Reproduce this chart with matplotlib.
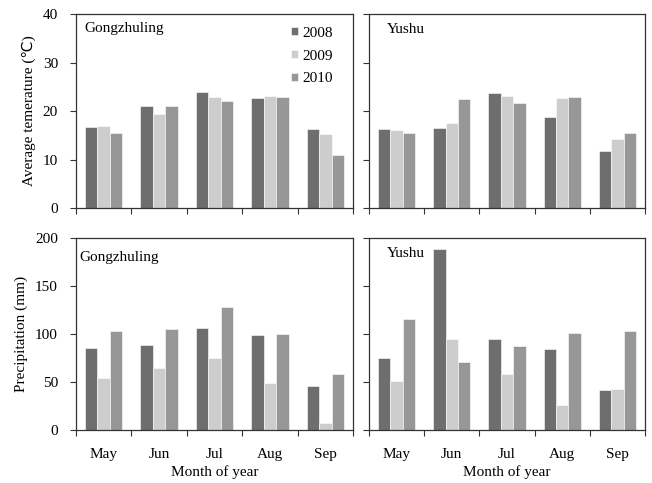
import matplotlib
matplotlib.use("Agg")
import matplotlib.pyplot as plt
import numpy as np

months = ["May", "Jun", "Jul", "Aug", "Sep"]
years = ["2008", "2009", "2010"]

temp_gzl_2008 = [16.7, 21.0, 24.0, 22.6, 16.2]
temp_gzl_2009 = [16.9, 19.3, 22.9, 23.0, 15.3]
temp_gzl_2010 = [15.5, 21.0, 22.0, 22.8, 11.0]

temp_ys_2008 = [16.3, 16.5, 23.7, 18.7, 11.7]
temp_ys_2009 = [16.0, 17.6, 23.0, 22.6, 14.3]
temp_ys_2010 = [15.5, 22.4, 21.7, 22.9, 15.5]

prec_gzl_2008 = [85, 89, 106, 99, 46]
prec_gzl_2009 = [54, 65, 75, 49, 7]
prec_gzl_2010 = [103, 105, 128, 100, 58]

prec_ys_2008 = [75, 189, 95, 84, 42]
prec_ys_2009 = [51, 95, 58, 26, 43]
prec_ys_2010 = [116, 71, 88, 101, 103]

colors = ["#6e6e6e", "#cdcdcd", "#979797"]
FONT = ["Liberation Serif", "DejaVu Sans"]
plt.rcParams["font.family"] = FONT
FS = 11

fig = plt.figure(figsize=(6.52, 4.83), dpi=100)
W, H = 652, 483
def pos(l, t, r, b):
    return [l / W, 1 - b / H, (r - l) / W, (b - t) / H]

ax_tl = fig.add_axes(pos(76, 14, 353, 208))
ax_tr = fig.add_axes(pos(369, 14, 645, 208))
ax_bl = fig.add_axes(pos(76, 238, 353, 430))
ax_br = fig.add_axes(pos(369, 238, 645, 430))

panels = [
    (ax_tl, [temp_gzl_2008, temp_gzl_2009, temp_gzl_2010], "Gongzhuling", 40, 10, True, False, (0.032, 0.923)),
    (ax_tr, [temp_ys_2008, temp_ys_2009, temp_ys_2010], "Yushu", 40, 10, False, False, (0.064, 0.918)),
    (ax_bl, [prec_gzl_2008, prec_gzl_2009, prec_gzl_2010], "Gongzhuling", 200, 50, True, True, (0.011, 0.901)),
    (ax_br, [prec_ys_2008, prec_ys_2009, prec_ys_2010], "Yushu", 200, 50, False, True, (0.064, 0.917)),
]

x = np.arange(len(months))
bw = 0.225
spine_c = "#333333"
for ax, series, title, ymax, ystep, ylab, bottom, tpos in panels:
    for i, (vals, c, yr) in enumerate(zip(series, colors, years)):
        ax.bar(x + (i - 1) * bw, vals, width=bw, color=c, edgecolor="white",
               linewidth=0.4, label=yr, zorder=2)
    ax.set_xlim(-0.5, 4.5)
    ax.set_ylim(0, ymax)
    ax.set_yticks(np.arange(0, ymax + 1, ystep))
    ax.set_xticks(np.arange(-0.5, 5, 1.0))
    ax.set_xticklabels([])
    ax.tick_params(axis="both", which="major", direction="out", length=4,
                   width=0.8, color=spine_c, labelsize=FS)
    ax.tick_params(axis="y", pad=9)
    if not ylab:
        ax.set_yticklabels([])
    for s in ax.spines.values():
        s.set_color(spine_c)
        s.set_linewidth(0.9)
    if bottom:
        ax.set_xticks(x, minor=True)
        ax.set_xticklabels(months, minor=True, fontsize=FS)
        ax.tick_params(axis="x", which="minor", length=0, pad=13)
        ax.set_xlabel("Month of year", fontsize=FS, labelpad=3)
    ax.text(tpos[0], tpos[1], title, transform=ax.transAxes, fontsize=FS, va="center")

ax_tl.set_ylabel("Average temerature (\u2103)", fontsize=FS, labelpad=5)
ax_bl.set_ylabel("Precipitation (mm)", fontsize=FS, labelpad=5)

leg = ax_tl.legend(loc="upper left", bbox_to_anchor=(0.776, 0.935), frameon=False,
                   fontsize=FS, handlelength=0.45, handleheight=0.45,
                   handletextpad=0.3, labelspacing=0.65, borderpad=0,
                   borderaxespad=0)

fig.savefig("out.png", dpi=100)
